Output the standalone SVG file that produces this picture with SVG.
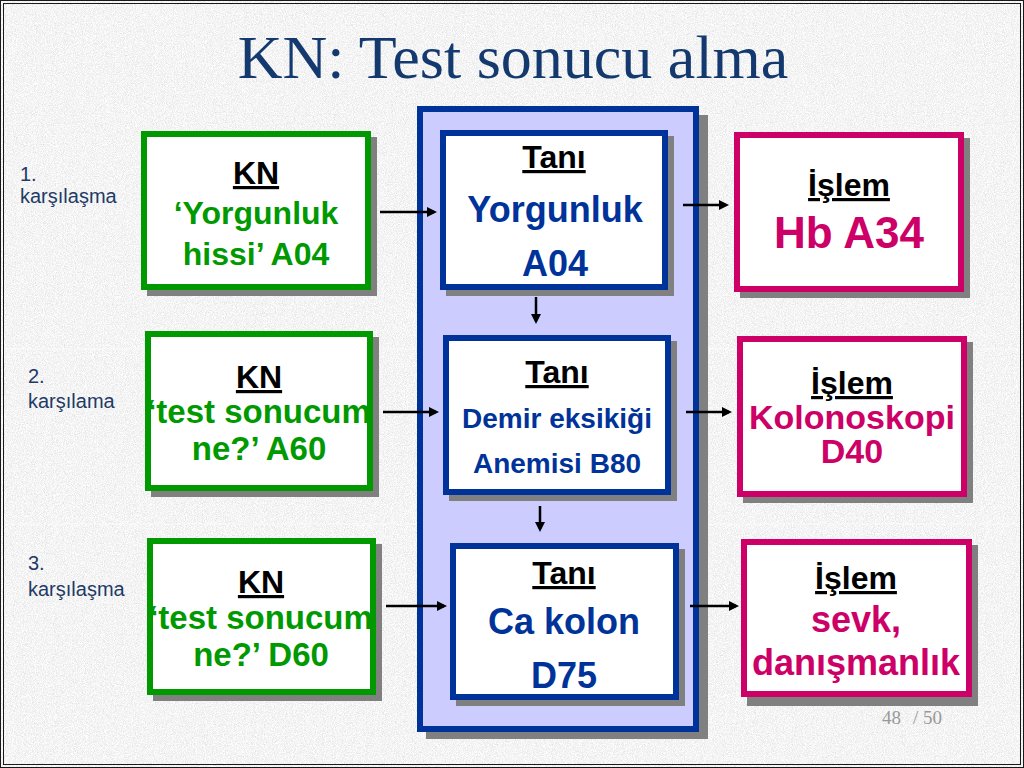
<svg xmlns="http://www.w3.org/2000/svg" width="1024" height="768" viewBox="0 0 1024 768">
<defs>
<filter id="granite" x="0" y="0" width="100%" height="100%">
<feTurbulence type="fractalNoise" baseFrequency="1.1" numOctaves="2" seed="4"/>
<feColorMatrix type="matrix" values="0.45 0 0 0 0.68  0.45 0 0 0 0.68  0.45 0 0 0 0.68  0 0 0 0 1"/>
</filter>
<marker id="arr" viewBox="0 0 10 10" refX="7" refY="5" markerWidth="11" markerHeight="10" markerUnits="userSpaceOnUse" orient="auto">
<path d="M0,0 L10,5 L0,10 z" fill="#000"/>
</marker>
</defs>
<style>
.sh{fill:#808080}
.g{fill:#fff;stroke:#009900;stroke-width:6}
.b{fill:#fff;stroke:#003399;stroke-width:6}
.p{fill:#fff;stroke:#cc0066;stroke-width:6}
text{font-family:"Liberation Sans",Arial,sans-serif;font-weight:bold;text-anchor:middle}
.hd{fill:#000;font-size:32px;text-decoration:underline}
.gt{fill:#009900;font-size:32px}
.bt{fill:#003399;font-size:36px}
.bs{fill:#003399;font-size:28px}
.pt{fill:#cc0066}
.lab{font-weight:normal;text-anchor:start;fill:#1f3a66;font-size:20px}
.conn line{stroke:#000;stroke-width:2.5;marker-end:url(#arr)}
</style>
<rect x="0" y="0" width="1024" height="768" filter="url(#granite)"/>
<g stroke="#fff" stroke-opacity="0.6" stroke-width="1">
<line x1="4" y1="349" x2="1020" y2="349"/>
<line x1="4" y1="524" x2="1020" y2="524"/>
</g>
<rect x="0.5" y="0.5" width="1023" height="767" fill="none" stroke="#1a1a1a" stroke-width="1"/>
<rect x="3.5" y="3.5" width="1017" height="761" fill="none" stroke="#1a1a1a" stroke-width="1"/>

<text x="513" y="78" style="font-family:'Liberation Serif','Times New Roman',serif;font-weight:normal;font-size:62px;fill:#14396e">KN: Test sonucu alma</text>

<g id="labels">
<text class="lab" x="20" y="181">1.</text>
<text class="lab" x="20" y="203">karşılaşma</text>
<text class="lab" x="28" y="383">2.</text>
<text class="lab" x="28" y="408">karşılama</text>
<text class="lab" x="28" y="570">3.</text>
<text class="lab" x="28" y="596">karşılaşma</text>
</g>

<g id="panel">
<rect x="426" y="115" width="282" height="624" class="sh"/>
<rect x="420" y="109" width="276" height="620" fill="#ccccff" stroke="#003399" stroke-width="6"/>
</g>

<g id="kn1">
<rect x="147" y="137" width="230" height="159" class="sh"/>
<rect x="144" y="134" width="224" height="153" class="g"/>
<text class="hd" x="256" y="184">KN</text>
<text class="gt" x="256" y="224">‘Yorgunluk</text>
<text class="gt" x="256" y="265">hissi’ A04</text>
</g>
<g id="kn2">
<rect x="151" y="337" width="228" height="160" class="sh"/>
<rect x="148" y="334" width="222" height="154" class="g"/>
<text class="hd" x="259" y="388">KN</text>
<text class="gt" x="259" y="423" style="font-size:33px">‘test sonucum</text>
<text class="gt" x="259" y="460" style="font-size:33px">ne?’ A60</text>
</g>
<g id="kn3">
<rect x="153" y="544" width="229" height="157" class="sh"/>
<rect x="150" y="541" width="223" height="151" class="g"/>
<text class="hd" x="261" y="593">KN</text>
<text class="gt" x="261" y="629" style="font-size:33px">‘test sonucum</text>
<text class="gt" x="261" y="666" style="font-size:33px">ne?’ D60</text>
</g>

<g id="tani1">
<rect x="446" y="136" width="228" height="160" class="sh"/>
<rect x="443" y="133" width="222" height="154" class="b"/>
<text class="hd" x="554" y="168">Tanı</text>
<text class="bt" x="555" y="222">Yorgunluk</text>
<text class="bt" x="555" y="276">A04</text>
</g>
<g id="tani2">
<rect x="449" y="341" width="228" height="160" class="sh"/>
<rect x="446" y="338" width="222" height="154" class="b"/>
<text class="hd" x="557" y="383">Tanı</text>
<text class="bs" x="557" y="428">Demir eksikiği</text>
<text class="bs" x="557" y="473">Anemisi B80</text>
</g>
<g id="tani3">
<rect x="456" y="549" width="229" height="157" class="sh"/>
<rect x="453" y="546" width="223" height="151" class="b"/>
<text class="hd" x="564" y="584">Tanı</text>
<text class="bt" x="564" y="634">Ca kolon</text>
<text class="bt" x="564" y="688">D75</text>
</g>

<g id="islem1">
<rect x="740" y="138" width="230" height="160" class="sh"/>
<rect x="737" y="135" width="224" height="154" class="p"/>
<text class="hd" x="849" y="196">İşlem</text>
<text class="pt" x="849" y="248" style="font-size:44px">Hb A34</text>
</g>
<g id="islem2">
<rect x="743" y="342" width="230" height="161" class="sh"/>
<rect x="740" y="339" width="224" height="155" class="p"/>
<text class="hd" x="852" y="394">İşlem</text>
<text class="pt" x="852" y="429" style="font-size:34px">Kolonoskopi</text>
<text class="pt" x="852" y="463" style="font-size:34px">D40</text>
</g>
<g id="islem3">
<rect x="747" y="545" width="231" height="161" class="sh"/>
<rect x="744" y="542" width="225" height="152" class="p"/>
<text class="hd" x="856" y="589">İşlem</text>
<text class="pt" x="856" y="632" style="font-size:36px">sevk,</text>
<text class="pt" x="856" y="675" style="font-size:36px">danışmanlık</text>
</g>

<g id="connectors" class="conn">
<line x1="380" y1="212" x2="434" y2="212"/>
<line x1="683" y1="205" x2="726" y2="205"/>
<line x1="383" y1="412" x2="436" y2="412"/>
<line x1="686" y1="412" x2="729" y2="412"/>
<line x1="386" y1="606" x2="444" y2="606"/>
<line x1="690" y1="606" x2="736" y2="606"/>
<line x1="536" y1="297" x2="536" y2="321"/>
<line x1="540" y1="506" x2="540" y2="529"/>
</g>

<g id="pagenum">
<text x="882" y="724" style="text-anchor:start;font-family:'Liberation Serif','Times New Roman',serif;font-weight:normal;font-size:19px;fill:#999">48</text>
<text x="913" y="724" style="text-anchor:start;font-family:'Liberation Serif','Times New Roman',serif;font-weight:normal;font-size:19px;fill:#999">/ 50</text>
</g>
</svg>
